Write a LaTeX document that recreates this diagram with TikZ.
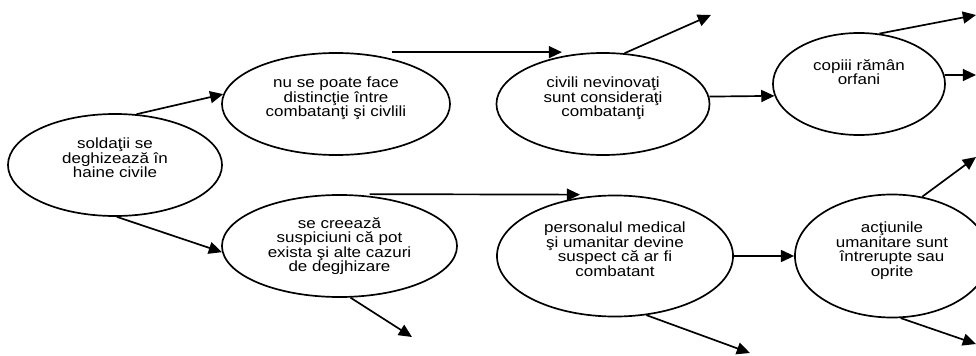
\documentclass[tikz,border=0pt]{standalone}
\usepackage{fontspec}
\setmainfont{Liberation Sans}[FakeStretch=1.15]
\usetikzlibrary{shapes.geometric,arrows.meta}

\begin{document}
\begin{tikzpicture}
[x=0.025cm,y=-0.025cm,line width=1.2pt,>={Triangle[length=0.33cm,width=0.3cm]},
bubble/.style={draw,ellipse,inner sep=0pt,align=center,text depth=10pt,font=\fontsize{10.5}{10.3}\selectfont},]

%Frame
\useasboundingbox (0,0) rectangle (976,356);
\clip (0,0) rectangle (976,356);

%Ellipses
\node (S) at (115,165)[bubble,minimum width=5.35cm,minimum height=2.55cm] {soldaţii se\\deghizează în\\haine civile};
\node (N) at (336,104)[bubble,minimum width=5.7cm,minimum height=2.55cm] {nu se poate face\\distincţie între\\combatanţi şi civlili};
\node (C) at (339.5,246)[bubble,minimum width=5.875cm,minimum height=2.55cm,text depth=2pt] {se creează\\suspiciuni că pot\\exista şi alte cazuri\\de degjhizare};
\node (V) at (603,104)[bubble,minimum width=5.325cm,minimum height=2.55cm] {civili nevinovaţi\\sunt consideraţi\\combatanţi};
\node (P) at (615,256)[bubble,minimum width=5.9cm,minimum height=3.025cm] {personalul medical\\şi umanitar devine\\suspect că ar fi\\combatant};
\node (O) at (859,84)[bubble,minimum width=4.3cm,minimum height=2.55cm,text depth=17pt] {copiii rămân\\orfani};
\node (A) at (892,256)[bubble,minimum width=4.85cm,minimum height=3.075cm] {acţiunile\\umanitare sunt\\întrerupte sau\\oprite};

%Free ends
\coordinate (V1) at (711,15);
\coordinate (O1) at (976,15);
\coordinate (O2) at (976,75);
\coordinate (A1) at (976,157);
\coordinate (A2) at (976,344);
\coordinate (C1) at (412,337);
\coordinate (P1) at (750,353);

%Arrows
\draw[->] (S.67) -- (N.175);
\draw[->] (S.-88) -- (C.183);
\draw[->] ([xshift=1.4cm]N.north) -- ([xshift=-1.025cm]V.north);
\draw[->] ([xshift=0.75cm]C.north) -- ([xshift=-0.875cm]P.north);
\draw[->] (V.67) -- (V1);
\draw[->] (V.4) -- (O.188);
\draw[->] (O.68) -- (O1);
\draw[->] (O.6) -- (O2);
\draw[->] (C.-78) -- (C1);
\draw[->] (P.east) -- (A.west);
\draw[->] (P.-62) -- (P1);
\draw[->] (A.63) -- (A1);
\draw[->] (A.-82) -- (A2);

\end{tikzpicture}
\end{document}
